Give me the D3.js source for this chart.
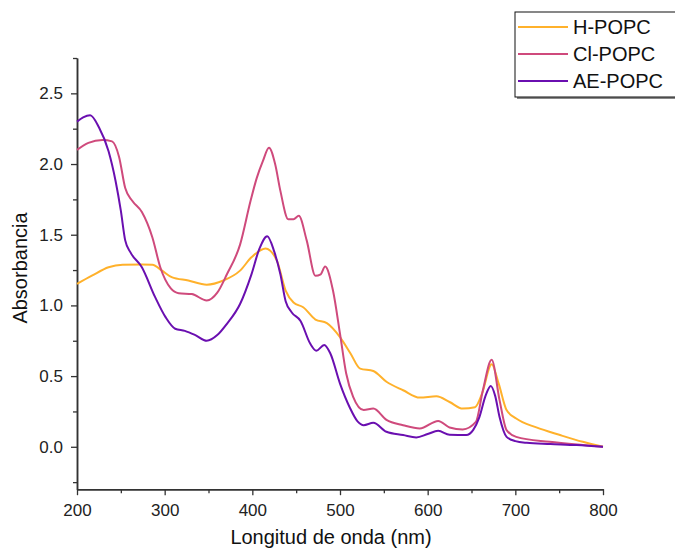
<!DOCTYPE html>
<html>
<head>
<meta charset="utf-8">
<script src="https://cdn.jsdelivr.net/npm/d3@7"></script>
<style>
  body { margin: 0; background: #fff; }
  text { font-family: "Liberation Sans", Arial, sans-serif; }
</style>
</head>
<body>
<div id="chart"></div>
<script>
let width_chart = 675;
let height_chart = 548;

const seriesNames = ["H-POPC", "Cl-POPC", "AE-POPC"];
const seriesColors = ["#FFB12B", "#CF4A7C", "#6A0FB0"];

const hPopc = [[200,1.152],[217,1.21],[236,1.27],[252,1.288],[274,1.29],[286,1.288],[297,1.246],[308,1.20],[327,1.176],[348,1.147],[367,1.176],[386,1.246],[399,1.34],[415,1.403],[428,1.317],[438,1.105],[447,1.02],[458,0.987],[472,0.90],[485,0.875],[500,0.776],[512,0.66],[523,0.553],[538,0.536],[553,0.46],[572,0.40],[591,0.348],[610,0.357],[625,0.317],[640,0.27],[654,0.28],[662,0.376],[673,0.583],[681,0.447],[690,0.26],[701,0.20],[724,0.137],[751,0.083],[777,0.035],[800,0]];

const clPopc = [[200,2.10],[213,2.15],[229,2.17],[240,2.16],[248,2.05],[255,1.83],[263,1.74],[274,1.66],[286,1.48],[295,1.27],[307,1.12],[316,1.086],[331,1.08],[348,1.035],[360,1.09],[371,1.22],[386,1.43],[398,1.74],[405,1.90],[412,2.02],[419,2.115],[426,2.00],[432,1.81],[441,1.61],[447,1.61],[453,1.634],[462,1.46],[472,1.21],[478,1.22],[483,1.275],[492,1.105],[500,0.80],[507,0.52],[515,0.353],[527,0.26],[538,0.27],[553,0.19],[572,0.153],[591,0.13],[612,0.183],[625,0.137],[640,0.123],[655,0.176],[663,0.40],[673,0.616],[682,0.33],[690,0.118],[701,0.07],[739,0.035],[777,0.012],[800,0]];

const aePopc = [[200,2.30],[207,2.33],[215,2.345],[225,2.26],[236,2.09],[244,1.88],[250,1.67],[255,1.46],[261,1.375],[274,1.27],[289,1.06],[301,0.917],[312,0.835],[323,0.82],[335,0.79],[348,0.75],[360,0.79],[371,0.87],[386,1.01],[399,1.22],[408,1.40],[417,1.49],[425,1.38],[432,1.22],[438,1.03],[445,0.95],[455,0.89],[466,0.73],[473,0.68],[482,0.72],[489,0.66],[500,0.447],[511,0.28],[520,0.18],[527,0.153],[538,0.17],[553,0.106],[572,0.083],[587,0.066],[600,0.09],[612,0.113],[625,0.085],[644,0.083],[652,0.12],[659,0.21],[666,0.36],[672,0.43],[677,0.36],[682,0.21],[690,0.07],[700,0.04],[713,0.028],[740,0.02],[770,0.012],[800,0]];

const xTicks = [200, 300, 400, 500, 600, 700, 800];
const yTicks = [0.0, 0.5, 1.0, 1.5, 2.0, 2.5];

const allSeries = [hPopc, clPopc, aePopc];

let margin = {left: 77, right: 72, top: 58, bottom: 58};

let svg = d3.select('#chart').append('svg')
    .attr('width', width_chart)
    .attr('height', height_chart);

var x = d3.scaleLinear().domain([200, 800]).range([margin.left, 603]);
var y = d3.scaleLinear().domain([-0.3, 2.75]).range([489.2, margin.top]);

//Ejes
var xAxis = svg.append("g")
    .attr("transform", "translate(0,489.2)")
    .call(d3.axisBottom(x).tickValues(xTicks).tickFormat(d3.format("d")).tickSize(6).tickPadding(9).tickSizeOuter(0));
var xMinor = svg.append("g")
    .attr("transform", "translate(0,489.2)")
    .call(d3.axisBottom(x).tickValues(d3.range(250, 800, 100)).tickFormat("").tickSize(4).tickSizeOuter(0));

var yAxis = svg.append("g")
    .attr("transform", "translate(" + margin.left + ",0)")
    .call(d3.axisLeft(y).tickValues(yTicks).tickFormat(d3.format(".1f")).tickSize(6).tickPadding(8).tickSizeOuter(0));
var yMinor = svg.append("g")
    .attr("transform", "translate(" + margin.left + ",0)")
    .call(d3.axisLeft(y).tickValues([-0.25, 0.25, 0.75, 1.25, 1.75, 2.25, 2.75]).tickFormat("").tickSize(4).tickSizeOuter(0));

svg.selectAll(".domain").attr("stroke", "#333").attr("stroke-width", 1.5);
svg.selectAll(".tick line").attr("stroke", "#333").attr("stroke-width", 1.3);
svg.selectAll(".tick text").style("font-size", "17px").attr("fill", "#222")
    .style("font-family", "'Liberation Sans', Arial, sans-serif");

//Titulos
svg.append("text")
    .attr("x", 331)
    .attr("y", 544)
    .attr("text-anchor", "middle")
    .style("font-size", "20px")
    .attr("fill", "#111")
    .text("Longitud de onda (nm)");

svg.append("text")
    .attr("transform", "translate(27,268) rotate(-90)")
    .attr("text-anchor", "middle")
    .style("font-size", "20px")
    .attr("fill", "#111")
    .text("Absorbancia");

//Curvas
var line = d3.line()
    .x(function(d) { return x(d[0]); })
    .y(function(d) { return y(d[1]); })
    .curve(d3.curveMonotoneX);

svg.selectAll("path.serie")
    .data(allSeries)
    .enter().append("path")
    .attr("class", "serie")
    .attr("d", line)
    .attr("fill", "none")
    .attr("stroke", function(d, i) { return seriesColors[i]; })
    .attr("stroke-width", 2);

//Leyenda
var legend = svg.append("g");
legend.append("rect")
    .attr("x", 517).attr("y", 14)
    .attr("width", 170).attr("height", 85)
    .attr("fill", "#888");
legend.append("rect")
    .attr("x", 515).attr("y", 12)
    .attr("width", 170).attr("height", 85)
    .attr("fill", "#fff")
    .attr("stroke", "#111")
    .attr("stroke-width", 1);

var item = legend.selectAll("g.item")
    .data(seriesNames)
    .enter().append("g")
    .attr("class", "item")
    .attr("transform", function(d, i) { return "translate(0," + (27 + i * 27) + ")"; });
item.append("line")
    .attr("x1", 518).attr("x2", 568)
    .attr("stroke", function(d, i) { return seriesColors[i]; })
    .attr("stroke-width", 2);
item.append("text")
    .attr("x", 573)
    .attr("dy", "0.36em")
    .style("font-size", "20px")
    .attr("fill", "#111")
    .text(function(d) { return d; });
</script>
</body>
</html>
